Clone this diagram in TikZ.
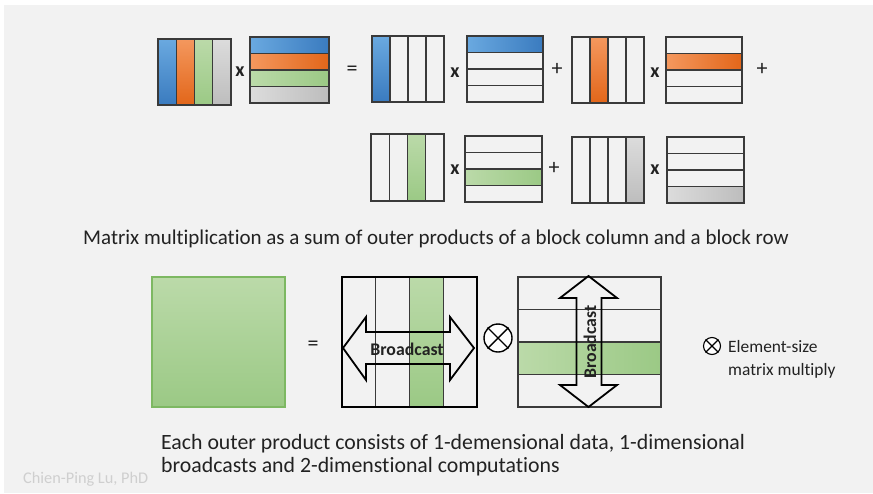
\documentclass[tikz,border=0pt]{standalone}
\usepackage{fontspec}
\setmainfont{Carlito}[Ligatures=NoCommon]
\definecolor{bg}{HTML}{F2F2F2}
\definecolor{lineC}{HTML}{3A3A3A}
\definecolor{blueL}{HTML}{6AA9E0}
\definecolor{blueD}{HTML}{3A7BBF}
\definecolor{orangeL}{HTML}{F4985E}
\definecolor{orangeD}{HTML}{E2661A}
\definecolor{greenL}{HTML}{BBDAA9}
\definecolor{greenD}{HTML}{9BC985}
\definecolor{grayL}{HTML}{DCDCDC}
\definecolor{grayD}{HTML}{BDBDBD}
\definecolor{greenB}{HTML}{7DB862}
\definecolor{wm}{HTML}{CFCFCF}
\definecolor{txt}{HTML}{222222}
\newcommand{\cmat}[6]{%
  \pgfmathsetmacro\cw{(#3-#1)/4}%
  \ifnum#5>0 \shade[#6] ({#1+(#5-1)*\cw},#2) rectangle ({#1+#5*\cw},#4);\fi
  \foreach \i in {1,2,3} \draw[gridline] ({#1+\i*\cw},#2) -- ({#1+\i*\cw},#4);
  \draw[gridline] (#1,#2) rectangle (#3,#4);
}
\newcommand{\rmat}[6]{%
  \pgfmathsetmacro\rh{(#4-#2)/4}%
  \ifnum#5>0 \shade[#6] (#1,{#2+(#5-1)*\rh}) rectangle (#3,{#2+#5*\rh});\fi
  \foreach \i in {1,2,3} \draw[gridline] (#1,{#2+\i*\rh}) -- (#3,{#2+\i*\rh});
  \draw[gridline] (#1,#2) rectangle (#3,#4);
}
\begin{document}
\begin{tikzpicture}[x=1pt,y=-1pt,
  gridline/.style={draw=lineC, line width=1.3pt},
  colB/.style={top color=blueL, bottom color=blueD},
  colO/.style={top color=orangeL, bottom color=orangeD},
  colG/.style={top color=greenL, bottom color=greenD},
  colK/.style={top color=grayL, bottom color=grayD},
  rowB/.style={left color=blueL, right color=blueD},
  rowO/.style={left color=orangeL, right color=orangeD},
  rowG/.style={left color=greenL, right color=greenD},
  rowK/.style={left color=grayL, right color=grayD},
  mulsign/.style={font=\fontsize{20}{20}\selectfont\bfseries, text=txt, inner sep=0pt},
  plussign/.style={font=\fontsize{22}{22}\selectfont, text=txt, inner sep=0pt},
  captext/.style={text=txt, inner sep=0pt, anchor=base west},
  barrow/.style={draw=black, line width=1.8pt, line join=miter},
  bclabel/.style={font=\fontsize{17.8}{17.8}\selectfont\bfseries, text=txt, inner sep=0pt},
  otimes/.style={circle, draw=black, fill=white, line width=1.4pt, inner sep=0pt}
]
\fill[white] (0,0) rectangle (873,493);
\fill[bg] (4,5) rectangle (873,493);
\useasboundingbox (0,0) rectangle (873,493);

% top-left product
\shade[colB] (158,39) rectangle (176.25,105);
\shade[colO] (176.25,39) rectangle (194.5,105);
\shade[colG] (194.5,39) rectangle (212.75,105);
\shade[colK] (212.75,39) rectangle (231,105);
\cmat{158}{39}{231}{105}{0}{}
\shade[rowB] (250,37) rectangle (329,53.5);
\shade[rowO] (250,53.5) rectangle (329,70);
\shade[rowG] (250,70) rectangle (329,86.5);
\shade[rowK] (250,86.5) rectangle (329,103);
\rmat{250}{37}{329}{103}{0}{}
\node[mulsign] (x0) at (240,72) {x};
\node[plussign] (eq0) at (352,71) {=};

% first row of outer products
\cmat{372}{36}{444}{102}{1}{colB}
\node[mulsign] (x1) at (455,73) {x};
\rmat{467}{36}{543}{102}{1}{rowB}
\node[plussign] (p1) at (557,69) {+};
\cmat{572}{37}{644}{103}{2}{colO}
\node[mulsign] (x2) at (655,73) {x};
\rmat{666}{37}{742}{103}{2}{rowO}
\node[plussign] (p2) at (762,69) {+};

% second row
\cmat{371}{134}{444}{201}{3}{colG}
\node[mulsign] (x3) at (455,170) {x};
\rmat{465}{136}{542}{202}{3}{rowG}
\node[plussign] (p3) at (554,168) {+};
\cmat{572}{137}{644}{203}{4}{colK}
\node[mulsign] (x4) at (655,170) {x};
\rmat{667}{137}{744}{203}{4}{rowK}

\node[captext, font=\fontsize{21}{24}\selectfont] (cap1) at (83,244) {Matrix multiplication as a sum of outer products of a block column and a block row};

% bottom part
\shade[top color=greenL, bottom color=greenD] (152,277) rectangle (285,407);
\draw[greenB, line width=1.4pt] (152,277) rectangle (285,407);
\node[plussign] (eq1) at (313,346) {=};

\cmat{342}{277}{477}{407}{3}{colG}
\draw[black, line width=2pt] (342,277) rectangle (477,407);
\draw[barrow] (343,348) -- (366,317) -- (366,332) -- (450,332) -- (450,317) -- (474,348)
  -- (450,380) -- (450,364) -- (366,364) -- (366,380) -- cycle;
\node[bclabel] (bc1) at (407,349) {Broadcast};

\node[otimes, minimum size=28pt] (ot) at (498,338) {};
\draw[line width=1.4pt] (ot.north east) -- (ot.south west) (ot.north west) -- (ot.south east);

\rmat{518}{277}{661}{407}{3}{rowG}
\draw[barrow] (588.5,276) -- (617,298) -- (601.5,298) -- (601.5,385) -- (617,385) -- (588.5,407)
  -- (560,385) -- (576.5,385) -- (576.5,298) -- (560,298) -- cycle;
\node[bclabel, rotate=90] (bc2) at (590,342) {Broadcast};

\node[otimes, minimum size=17pt, line width=1.1pt] (ot2) at (712,346) {};
\draw[line width=1.1pt] (ot2.north east) -- (ot2.south west) (ot2.north west) -- (ot2.south east);
\node[font=\fontsize{17.4}{17.4}\selectfont, text=txt, inner sep=0pt, anchor=base west] (leg1) at (728,352) {Element-size};
\node[font=\fontsize{17.4}{17.4}\selectfont, text=txt, inner sep=0pt, anchor=base west] (leg2) at (728,375) {matrix multiply};

\node[captext, font=\fontsize{21.8}{24}\selectfont] (cap2a) at (161,449) {Each outer product consists of 1-demensional data, 1-dimensional};
\node[captext, font=\fontsize{21.8}{24}\selectfont] (cap2b) at (161,472) {broadcasts and 2-dimenstional computations};

\node[font=\fontsize{16.3}{16.3}\selectfont, text=wm, inner sep=0pt, anchor=base west] (wmk) at (23,483) {Chien-Ping Lu, PhD};
\end{tikzpicture}
\end{document}
